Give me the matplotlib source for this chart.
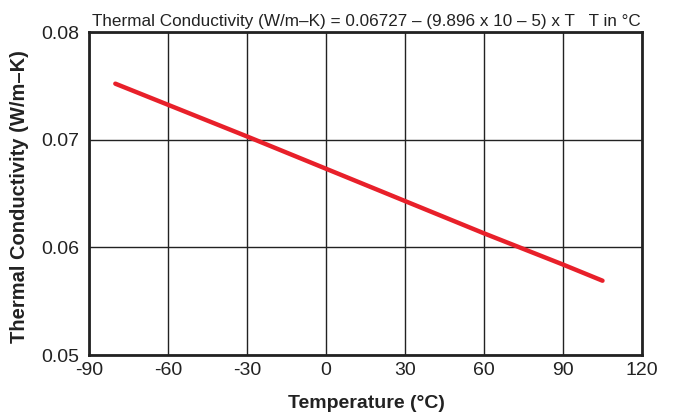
import matplotlib.pyplot as plt

# values
temps = [-80, -30, 0, 30, 60, 90, 105]
conductivity = [0.0752, 0.0703, 0.0673, 0.0643, 0.0613, 0.0584, 0.0569]

x_ticks = [-90, -60, -30, 0, 30, 60, 90, 120]
x_labels = ["-90", "-60", "-30", "0", "30", "60", "90", "120"]
y_ticks = [0.05, 0.06, 0.07, 0.08]
y_labels = ["0.05", "0.06", "0.07", "0.08"]

plt.rcParams['font.family'] = ['Liberation Sans', 'DejaVu Sans']

fig = plt.figure(figsize=(6.78, 4.17), dpi=100)
ax = fig.add_axes([89 / 678, 1 - 355 / 417, (642 - 89) / 678, (355 - 32) / 417])

ax.plot(temps, conductivity, color="#e8202a", linewidth=3.2, solid_capstyle="round")

ax.set_xlim(-90, 120)
ax.set_ylim(0.05, 0.08)
ax.set_xticks(x_ticks)
ax.set_xticklabels(x_labels)
ax.set_yticks(y_ticks)
ax.set_yticklabels(y_labels)
ax.tick_params(length=0, labelsize=14, colors="#222222")
ax.tick_params(axis="x", pad=5)
ax.tick_params(axis="y", pad=7)
ax.grid(True, color="#222222", linewidth=1)
for s in ax.spines.values():
    s.set_linewidth(2)
    s.set_color("#222222")

ax.set_xlabel("Temperature (°C)", fontsize=14, fontweight="bold", va="center", color="#222222")
ax.xaxis.set_label_coords(0.501, -0.149)
ax.set_ylabel("Thermal Conductivity (W/m–K)", fontsize=14.5, fontweight="bold", va="center",
              color="#222222")
ax.yaxis.set_label_coords(-0.125, 0.49)
ax.set_title("Thermal Conductivity (W/m–K) = 0.06727 – (9.896 x 10 – 5) x T   T in °C",
             fontsize=12.3, loc="right", pad=4, x=0.997, color="#222222")

fig.savefig("out.png", dpi=100)
